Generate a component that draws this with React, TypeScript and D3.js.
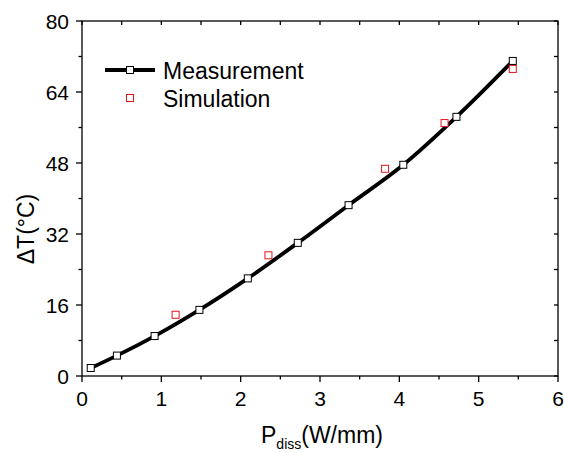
import React from "react";
import * as d3 from "d3";

const measX = [0.11, 0.44, 0.915, 1.48, 2.09, 2.72, 3.36, 4.05, 4.72, 5.43];
const measY = [1.8, 4.6, 9.0, 14.9, 22.0, 30.0, 38.5, 47.6, 58.4, 71.0];
const simX = [1.18, 2.35, 3.82, 4.57, 5.43];
const simY = [13.8, 27.2, 46.7, 57.0, 69.2];
const xTicks = [0, 1, 2, 3, 4, 5, 6];
const xMinor = [0.5, 1.5, 2.5, 3.5, 4.5, 5.5];
const yTicks = [0, 16, 32, 48, 64, 80];
const yMinor = [8, 24, 40, 56, 72];

const W = 564, H = 453;
const L = 82, R = 558, T = 21, B = 376;
const FONT = "'Liberation Sans', Arial, sans-serif";

export default function App() {
  const x = d3.scaleLinear().domain([0, 6]).range([L, R]);
  const y = d3.scaleLinear().domain([0, 80]).range([B, T]);
  const meas = measX.map((v, i) => [v, measY[i]] as [number, number]);
  const sim = simX.map((v, i) => [v, simY[i]] as [number, number]);
  const line = d3
    .line<[number, number]>()
    .x((d) => x(d[0]))
    .y((d) => y(d[1]))
    .curve(d3.curveMonotoneX);
  const s = 7;
  return (
    <svg width={W} height={H} style={{ position: "absolute", left: 0, top: 0 }} fontFamily={FONT}>
      <rect x={0} y={0} width={W} height={H} fill="#fff" />
      <rect x={L} y={T} width={R - L} height={B - T} fill="none" stroke="#000" strokeWidth={1.3} />
      {xTicks.map((t) => (
        <g key={"xt" + t}>
          <line x1={x(t)} x2={x(t)} y1={B} y2={B + 6} stroke="#000" strokeWidth={1.3} />
          <line x1={x(t)} x2={x(t)} y1={T} y2={T + 4} stroke="#000" strokeWidth={1.3} />
          <text x={x(t)} y={406} fontSize={21} textAnchor="middle" fill="#000">
            {t}
          </text>
        </g>
      ))}
      {xMinor.map((t) => (
        <g key={"xm" + t}>
          <line x1={x(t)} x2={x(t)} y1={B} y2={B + 3.5} stroke="#000" strokeWidth={1.3} />
          <line x1={x(t)} x2={x(t)} y1={T} y2={T + 4} stroke="#000" strokeWidth={1.3} />
        </g>
      ))}
      {yTicks.map((t) => (
        <g key={"yt" + t}>
          <line x1={L - 6} x2={L} y1={y(t)} y2={y(t)} stroke="#000" strokeWidth={1.3} />
          <line x1={R - 4} x2={R} y1={y(t)} y2={y(t)} stroke="#000" strokeWidth={1.3} />
          <text x={69} y={y(t)} dy="0.36em" fontSize={21} textAnchor="end" fill="#000">
            {t}
          </text>
        </g>
      ))}
      {yMinor.map((t) => (
        <g key={"ym" + t}>
          <line x1={L - 3.5} x2={L} y1={y(t)} y2={y(t)} stroke="#000" strokeWidth={1.3} />
          <line x1={R - 4} x2={R} y1={y(t)} y2={y(t)} stroke="#000" strokeWidth={1.3} />
        </g>
      ))}
      <text x={322} y={443} fontSize={23} textAnchor="middle" fill="#000">
        P<tspan fontSize={14} dy={6}>diss</tspan>
        <tspan dy={-6}>(W/mm)</tspan>
      </text>
      <text transform={`translate(34,229) rotate(-90)`} fontSize={23} textAnchor="middle" fill="#000">
        ΔT(°C)
      </text>
      <path d={line(meas) || ""} fill="none" stroke="#000" strokeWidth={3.8} />
      {meas.map((d, i) => (
        <rect key={"m" + i} x={x(d[0]) - s / 2} y={y(d[1]) - s / 2} width={s} height={s} fill="#fff" stroke="#000" strokeWidth={1} />
      ))}
      {sim.map((d, i) => (
        <rect key={"s" + i} x={x(d[0]) - s / 2} y={y(d[1]) - s / 2} width={s} height={s} fill="#fff" stroke="#e8141c" strokeWidth={1} />
      ))}
      <line x1={105} x2={155} y1={70} y2={70} stroke="#000" strokeWidth={3.8} />
      <rect x={130 - s / 2} y={70 - s / 2} width={s} height={s} fill="#fff" stroke="#000" strokeWidth={1} />
      <text x={163} y={79} fontSize={23} fill="#000">Measurement</text>
      <rect x={130 - s / 2} y={98 - s / 2} width={s} height={s} fill="#fff" stroke="#e8141c" strokeWidth={1} />
      <text x={163} y={107} fontSize={23} fill="#000">Simulation</text>
    </svg>
  );
}
